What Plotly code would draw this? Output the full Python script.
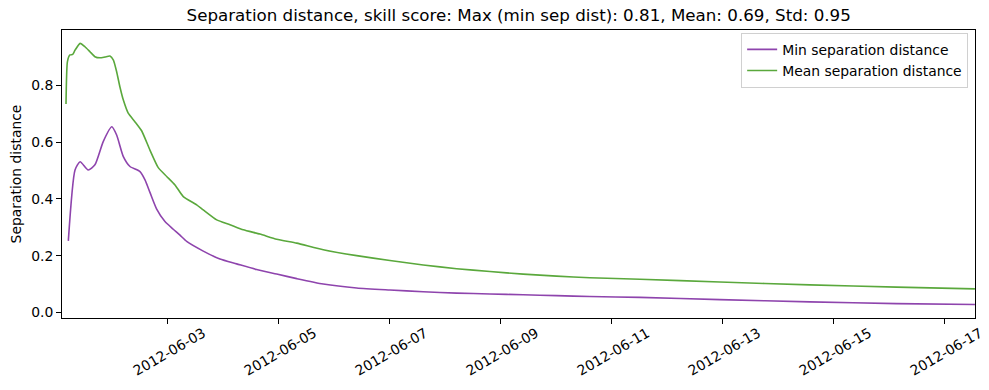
import plotly.graph_objects as go

# Min separation distance (purple)
min_times = [
    "2012-06-01 05:12", "2012-06-01 08:06", "2012-06-01 10:18", "2012-06-01 13:48",
    "2012-06-01 16:42", "2012-06-01 20:18", "2012-06-02 00:00", "2012-06-02 02:06",
    "2012-06-02 05:00", "2012-06-02 07:52", "2012-06-02 12:12", "2012-06-02 14:22",
    "2012-06-02 16:30", "2012-06-02 19:25", "2012-06-02 23:00", "2012-06-03 02:36",
    "2012-06-03 05:30", "2012-06-03 08:23", "2012-06-03 15:34", "2012-06-03 22:47",
    "2012-06-04 06:00", "2012-06-04 14:39", "2012-06-04 23:18", "2012-06-05 08:00",
    "2012-06-05 19:27", "2012-06-06 09:54", "2012-06-07 00:18", "2012-06-07 14:42",
    "2012-06-08 05:09", "2012-06-08 19:33", "2012-06-09 09:56", "2012-06-10 00:23",
    "2012-06-10 14:47", "2012-06-11 12:24", "2012-06-12 23:00", "2012-06-14 13:55",
    "2012-06-16 03:24", "2012-06-17 13:18",
]
min_values = [
    0.252, 0.502, 0.531, 0.502,
    0.520, 0.602, 0.654, 0.625,
    0.549, 0.514, 0.496, 0.467,
    0.423, 0.364, 0.320, 0.293,
    0.272, 0.250, 0.216, 0.188,
    0.171, 0.151, 0.135, 0.119,
    0.100, 0.086, 0.079, 0.073,
    0.068, 0.065, 0.062, 0.059,
    0.056, 0.053, 0.045, 0.037,
    0.031, 0.028,
]

# Mean separation distance (green)
mean_times = [
    "2012-06-01 04:12", "2012-06-01 04:48", "2012-06-01 05:54", "2012-06-01 07:06",
    "2012-06-01 08:06", "2012-06-01 10:18", "2012-06-01 12:24", "2012-06-01 14:36",
    "2012-06-01 16:42", "2012-06-01 18:54", "2012-06-01 21:06", "2012-06-01 23:12",
    "2012-06-02 00:42", "2012-06-02 02:06", "2012-06-02 03:30", "2012-06-02 05:00",
    "2012-06-02 07:06", "2012-06-02 10:00", "2012-06-02 12:54", "2012-06-02 16:30",
    "2012-06-02 20:06", "2012-06-02 23:45", "2012-06-03 03:20", "2012-06-03 06:55",
    "2012-06-03 12:43", "2012-06-03 15:34", "2012-06-03 21:22", "2012-06-04 03:07",
    "2012-06-04 08:52", "2012-06-04 16:05", "2012-06-04 23:18", "2012-06-05 08:00",
    "2012-06-05 19:27", "2012-06-06 09:54", "2012-06-07 00:18", "2012-06-07 14:42",
    "2012-06-08 05:09", "2012-06-08 19:33", "2012-06-09 09:56", "2012-06-10 00:23",
    "2012-06-10 14:47", "2012-06-11 12:24", "2012-06-12 23:00", "2012-06-14 13:55",
    "2012-06-16 03:24", "2012-06-17 13:18",
]
mean_values = [
    0.734, 0.883, 0.907, 0.909,
    0.924, 0.948, 0.936, 0.918,
    0.901, 0.897, 0.900, 0.903,
    0.889, 0.848, 0.795, 0.748,
    0.702, 0.672, 0.640, 0.572,
    0.510, 0.479, 0.449, 0.408,
    0.379, 0.361, 0.326, 0.309,
    0.291, 0.276, 0.258, 0.244,
    0.221, 0.200, 0.183, 0.167,
    0.154, 0.144, 0.135, 0.128,
    0.122, 0.117, 0.107, 0.097,
    0.089, 0.083,
]

x_ticks = ["2012-06-03", "2012-06-05", "2012-06-07", "2012-06-09",
           "2012-06-11", "2012-06-13", "2012-06-15", "2012-06-17"]
y_ticks = [0.0, 0.2, 0.4, 0.6, 0.8]

title = "Separation distance, skill score: Max (min sep dist): 0.81, Mean: 0.69, Std: 0.95"

fig = go.Figure()
fig.add_trace(go.Scatter(x=min_times, y=min_values, mode="lines",
                         name="Min separation distance",
                         line=dict(color="#8E44AD", width=1.6, shape="spline", smoothing=0.6)))
fig.add_trace(go.Scatter(x=mean_times, y=mean_values, mode="lines",
                         name="Mean separation distance",
                         line=dict(color="#5AA83C", width=1.6, shape="spline", smoothing=0.5)))

font_family = "DejaVu Sans"
fs = 13.9
fig.update_layout(
    width=989, height=390,
    margin=dict(l=62, r=14, t=30, b=72),
    plot_bgcolor="white", paper_bgcolor="white",
    font=dict(family=font_family, size=fs, color="black"),
    title=dict(text=title, x=0.5245, xanchor="center", y=0.962, yanchor="middle",
               font=dict(size=16.7, family=font_family, color="black")),
    showlegend=True,
    legend=dict(x=0.9925, xanchor="right", y=0.99, yanchor="top",
                bgcolor="white", bordercolor="#d0d0d0", borderwidth=1,
                font=dict(size=fs, family=font_family),
                itemwidth=30, tracegroupgap=1),
)
fig.update_xaxes(
    range=["2012-06-01 02:28", "2012-06-17 13:20"],
    tickvals=x_ticks, ticktext=x_ticks, tickangle=-30,
    ticks="outside", ticklen=5, tickwidth=1, tickcolor="black",
    showline=True, linecolor="black", linewidth=1, mirror=True,
    showgrid=False, zeroline=False, automargin=False,
    tickfont=dict(size=fs, family=font_family),
    ticklabelshift=36, ticklabelstandoff=-4,
)
fig.update_yaxes(
    range=[-0.0197, 0.995],
    tickvals=y_ticks, ticktext=[f"{v:.1f}" for v in y_ticks],
    ticks="outside", ticklen=5, tickwidth=1, tickcolor="black",
    showline=True, linecolor="black", linewidth=1, mirror=True,
    showgrid=False, zeroline=False, automargin=False,
    title=dict(text="Separation distance", font=dict(size=fs, family=font_family), standoff=6),
    tickfont=dict(size=fs, family=font_family),
)

fig.write_html("out.html",
               config={"displayModeBar": False},
               post_script="document.body.style.margin='0';document.body.style.padding='0';")
